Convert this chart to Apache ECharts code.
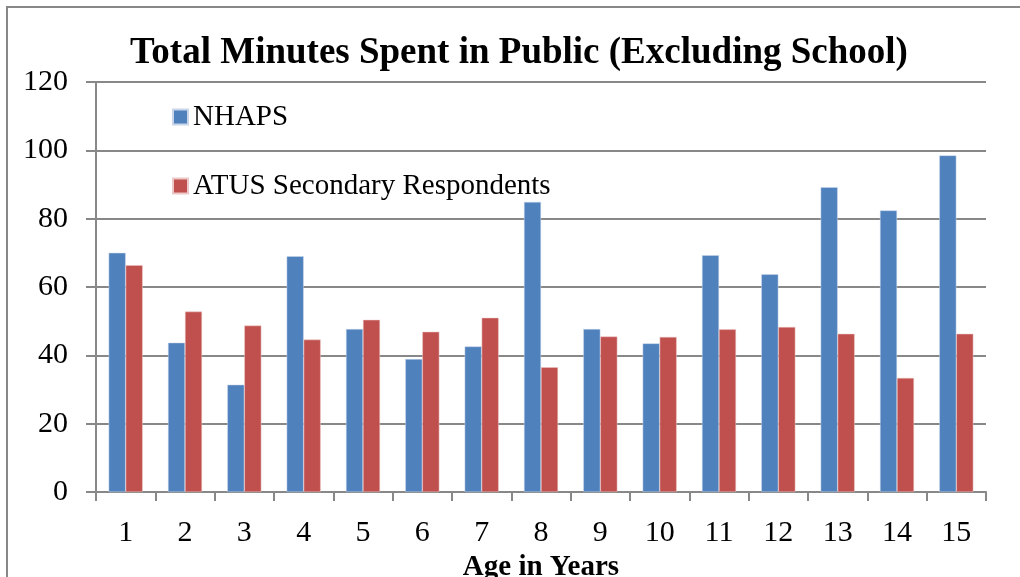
<!DOCTYPE html>
<html>
<head>
<meta charset="utf-8">
<script src="https://cdn.jsdelivr.net/npm/echarts@6/dist/echarts.min.js"></script>
<style>html,body{margin:0;padding:0;background:#fff;}#c{width:1020px;height:577px;}</style>
</head>
<body>
<div id="c"></div>
<script>
var categories = ['1','2','3','4','5','6','7','8','9','10','11','12','13','14','15'];
var nhaps = [70.0, 43.7, 31.4, 69.0, 47.7, 38.9, 42.6, 84.9, 47.7, 43.5, 69.3, 63.7, 89.2, 82.4, 98.5];
var atus = [66.4, 52.8, 48.7, 44.6, 50.4, 46.9, 51.0, 36.5, 45.5, 45.4, 47.6, 48.3, 46.3, 33.4, 46.3];
var seriesNames = ['NHAPS', 'ATUS Secondary Respondents'];
var yMin = 0, yMax = 120, yStep = 20;

var FONT = "'Liberation Serif','Times New Roman',serif";
var GRAY = '#888888';
var chart = echarts.init(document.getElementById('c'), null, {renderer: 'canvas'});
chart.setOption({
  animation: false,
  backgroundColor: '#ffffff',
  graphic: [{
    type: 'rect', shape: {x: 7, y: 7, width: 1100, height: 700},
    style: {fill: 'none', stroke: GRAY, lineWidth: 2}, z: -1
  }],
  title: {
    text: 'Total Minutes Spent in Public (Excluding School)',
    left: 519, top: 35, textAlign: 'center', padding: 0,
    textStyle: {fontFamily: FONT, fontWeight: 'bold', fontSize: 37, color: '#000'}
  },
  legend: {
    orient: 'vertical', left: 172, top: 102, padding: 0,
    itemWidth: 15, itemHeight: 15, itemGap: 39,
    icon: 'rect',
    textStyle: {fontFamily: FONT, fontSize: 29, color: '#000', lineHeight: 30},
    data: seriesNames
  },
  grid: {left: 96, right: 34, top: 82, bottom: 85, containLabel: false, outerBoundsMode: 'none'},
  xAxis: {
    type: 'category', data: categories,
    axisLine: {show: true, lineStyle: {color: GRAY, width: 2}},
    axisTick: {show: true, length: 9, lineStyle: {color: GRAY, width: 2}},
    axisLabel: {fontFamily: FONT, fontSize: 30, color: '#000', margin: 26},
    name: 'Age in Years', nameLocation: 'middle', nameGap: 76,
    nameTextStyle: {fontFamily: FONT, fontWeight: 'bold', fontSize: 29, color: '#000', verticalAlign: 'middle'}
  },
  yAxis: {
    type: 'value', min: yMin, max: yMax, interval: yStep,
    axisLine: {show: true, lineStyle: {color: GRAY, width: 2}},
    axisTick: {show: true, length: 10, lineStyle: {color: GRAY, width: 2}},
    splitLine: {show: true, lineStyle: {color: GRAY, width: 2}},
    axisLabel: {fontFamily: FONT, fontSize: 30, color: '#000', margin: 28}
  },
  series: [{
    name: seriesNames[0], type: 'bar', data: nhaps,
    barWidth: 17, barGap: '0%',
    itemStyle: {color: '#4F81BD', borderColor: '#c9d6ea', borderWidth: 0.5}
  }, {
    name: seriesNames[1], type: 'bar', data: atus,
    barWidth: 17, barGap: '0%',
    itemStyle: {color: '#C0504D', borderColor: '#ecc9c8', borderWidth: 0.5}
  }]
});
</script>
</body>
</html>
